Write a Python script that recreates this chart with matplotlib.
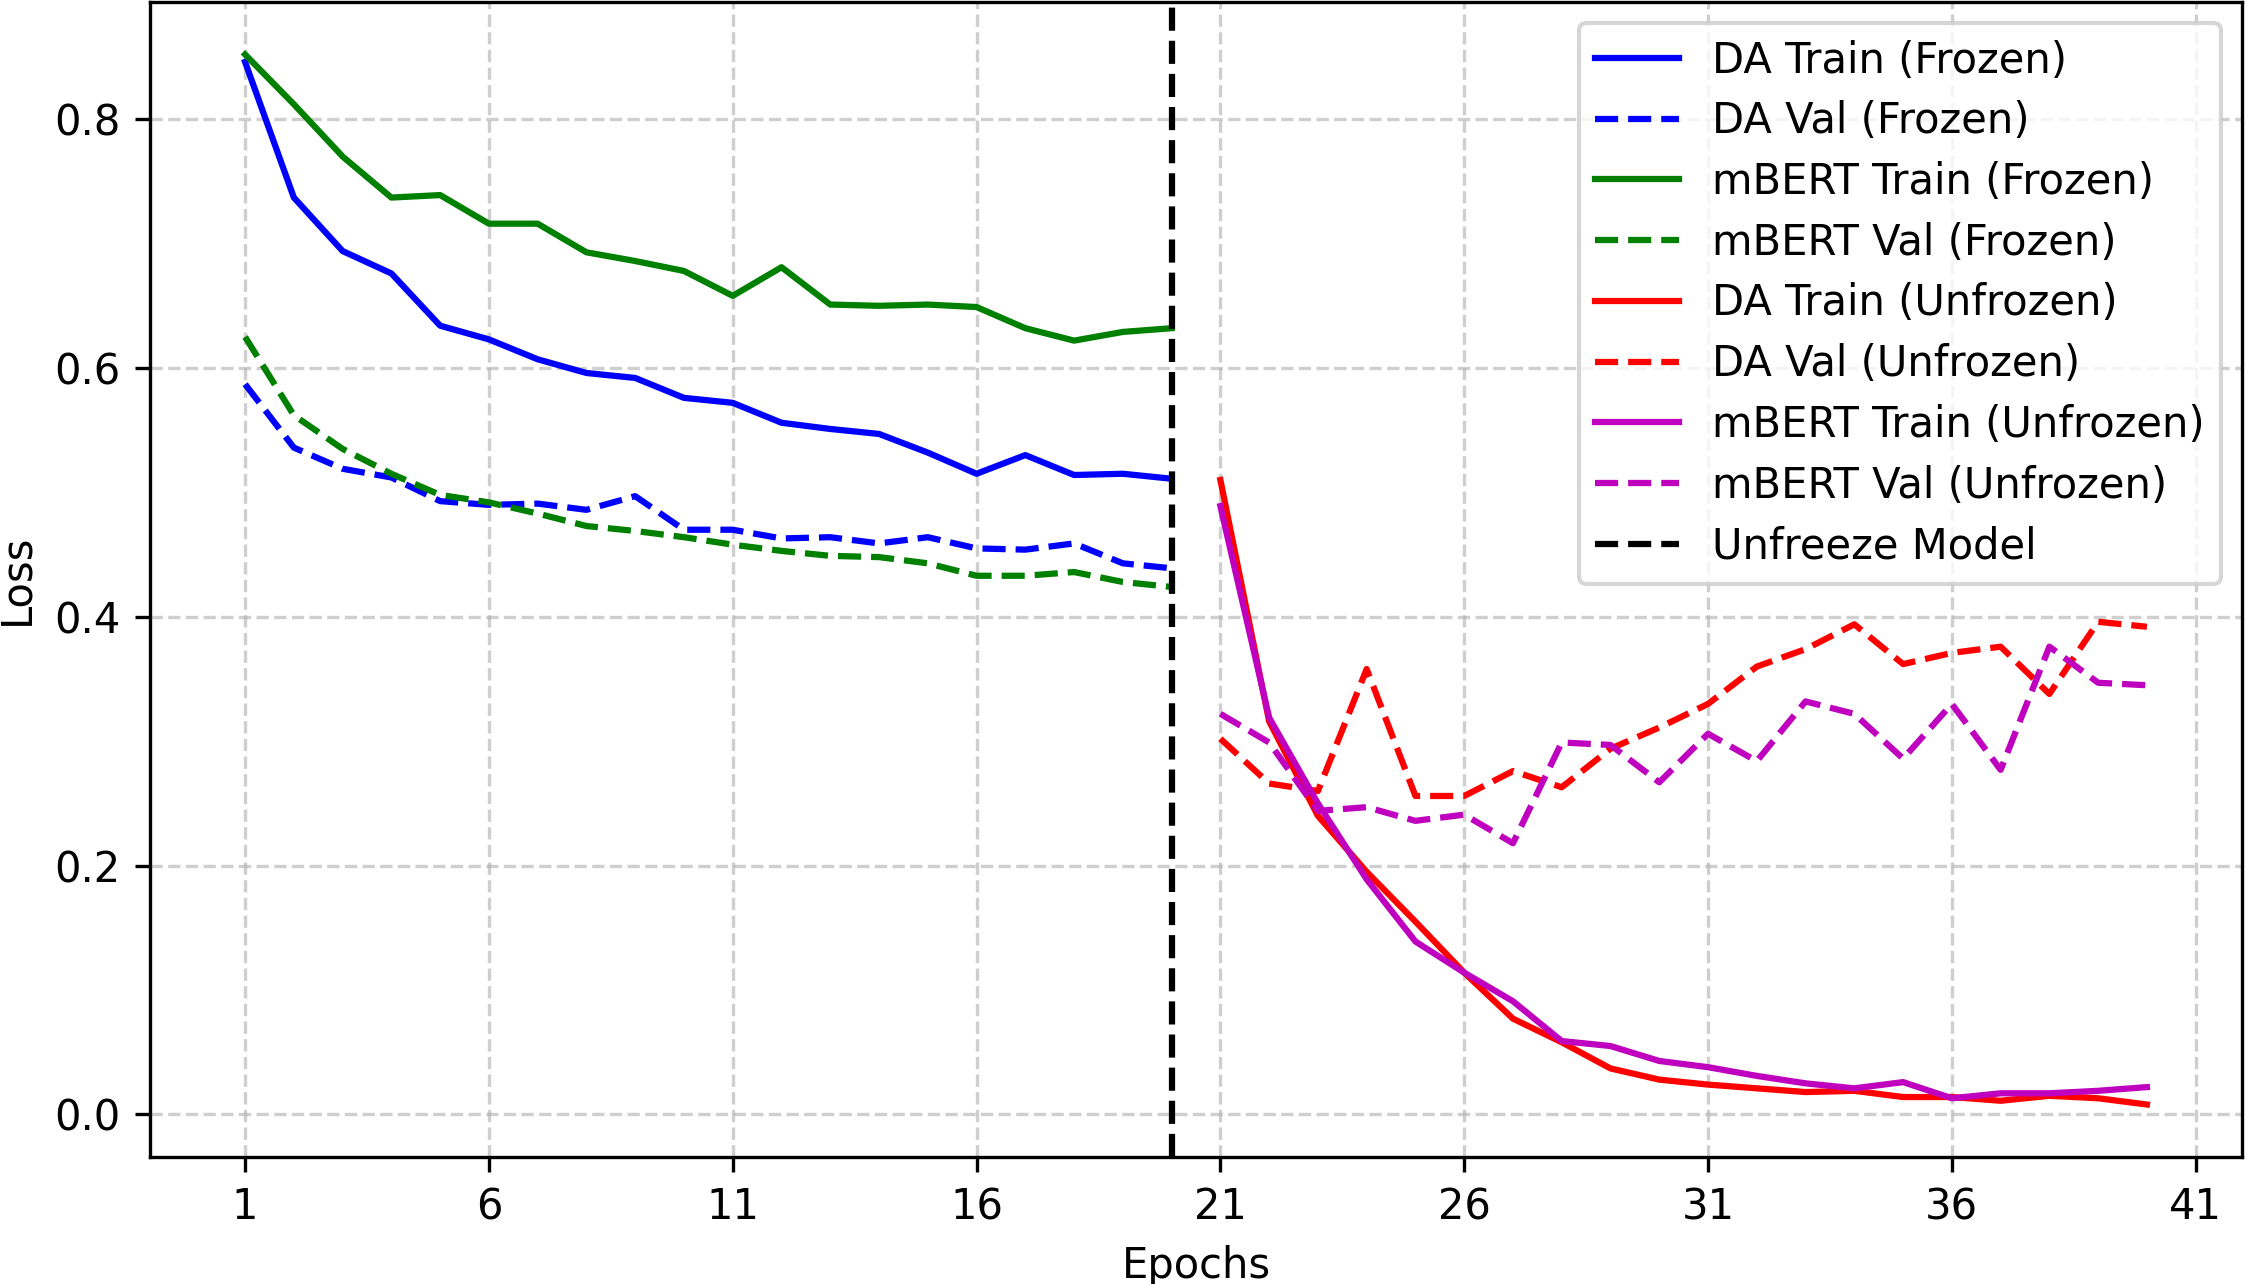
import matplotlib
matplotlib.use("Agg")
import matplotlib.pyplot as plt

# Epochs
epochs_frozen = list(range(1, 21))
epochs_unfrozen = list(range(21, 41))

# Frozen phase losses
da_train_frozen = [0.846, 0.737, 0.694, 0.676, 0.634, 0.623, 0.607, 0.596, 0.592, 0.576,
                   0.572, 0.556, 0.551, 0.547, 0.532, 0.515, 0.530, 0.514, 0.515, 0.511]
da_val_frozen = [0.587, 0.536, 0.519, 0.512, 0.493, 0.490, 0.491, 0.486, 0.497, 0.470,
                 0.470, 0.463, 0.464, 0.459, 0.464, 0.455, 0.454, 0.459, 0.443, 0.439]
mbert_train_frozen = [0.852, 0.812, 0.770, 0.737, 0.739, 0.716, 0.716, 0.693, 0.686, 0.678,
                      0.658, 0.681, 0.651, 0.650, 0.651, 0.649, 0.632, 0.622, 0.629, 0.632]
mbert_val_frozen = [0.625, 0.562, 0.535, 0.515, 0.498, 0.492, 0.483, 0.473, 0.469, 0.464,
                    0.458, 0.453, 0.449, 0.448, 0.443, 0.433, 0.433, 0.436, 0.428, 0.424]

# Unfrozen phase losses
da_train_unfrozen = [0.510, 0.316, 0.240, 0.195, 0.155, 0.114, 0.077, 0.058, 0.037, 0.028,
                     0.024, 0.021, 0.018, 0.019, 0.014, 0.014, 0.011, 0.015, 0.013, 0.008]
da_val_unfrozen = [0.302, 0.266, 0.260, 0.358, 0.256, 0.256, 0.276, 0.263, 0.294, 0.311,
                   0.330, 0.360, 0.374, 0.394, 0.362, 0.371, 0.376, 0.338, 0.396, 0.392]
mbert_train_unfrozen = [0.489, 0.319, 0.250, 0.189, 0.139, 0.114, 0.091, 0.059, 0.055, 0.043,
                        0.038, 0.031, 0.025, 0.021, 0.026, 0.013, 0.017, 0.017, 0.019, 0.022]
mbert_val_unfrozen = [0.322, 0.299, 0.244, 0.247, 0.236, 0.241, 0.218, 0.299, 0.297, 0.267,
                      0.306, 0.284, 0.332, 0.322, 0.286, 0.330, 0.277, 0.376, 0.347, 0.345]

unfreeze_epoch = 20

fig = plt.figure(figsize=(2246 / 300, 1284 / 300), dpi=300)
ax = fig.add_axes([150 / 2246, 1 - 1157 / 1284, (2242 - 150) / 2246, (1157 - 2) / 1284])

ax.plot(epochs_frozen, da_train_frozen, color='blue', lw=1.5, label='DA Train (Frozen)')
ax.plot(epochs_frozen, da_val_frozen, color='blue', lw=1.5, linestyle='--', label='DA Val (Frozen)')
ax.plot(epochs_frozen, mbert_train_frozen, color='green', lw=1.5, label='mBERT Train (Frozen)')
ax.plot(epochs_frozen, mbert_val_frozen, color='green', lw=1.5, linestyle='--', label='mBERT Val (Frozen)')
ax.plot(epochs_unfrozen, da_train_unfrozen, color='red', lw=1.5, label='DA Train (Unfrozen)')
ax.plot(epochs_unfrozen, da_val_unfrozen, color='red', lw=1.5, linestyle='--', label='DA Val (Unfrozen)')
ax.plot(epochs_unfrozen, mbert_train_unfrozen, color='m', lw=1.5, label='mBERT Train (Unfrozen)')
ax.plot(epochs_unfrozen, mbert_val_unfrozen, color='m', lw=1.5, linestyle='--', label='mBERT Val (Unfrozen)')
ax.axvline(x=unfreeze_epoch, color='black', lw=1.5, linestyle='--', label='Unfreeze Model')

ax.set_xticks(range(1, 42, 5))
ax.set_xlabel('Epochs')
ax.set_ylabel('Loss')
ax.grid(True, linestyle='--', alpha=0.6)
ax.legend(loc='upper right', labelspacing=0.45)

fig.savefig('out.png', dpi=300)
